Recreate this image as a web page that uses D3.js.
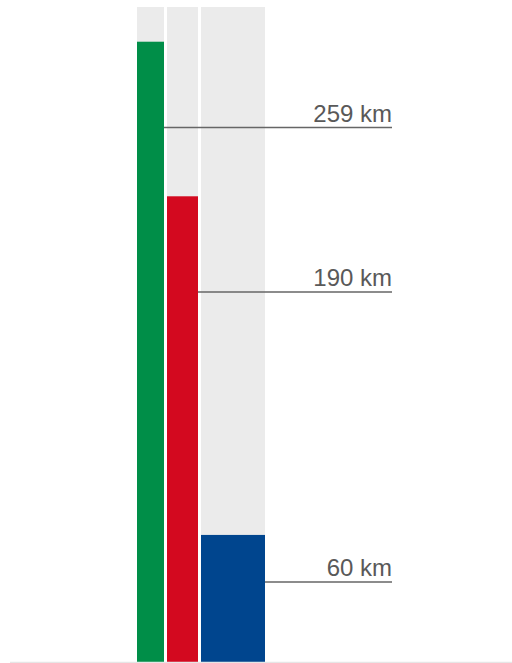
<!DOCTYPE html>
<html>
<head>
<meta charset="utf-8">
<script src="https://cdn.jsdelivr.net/npm/d3@7"></script>
<style>
	html, body { margin: 0; padding: 0; background: #fff; }
	svg { display: block; }
</style>
</head>
<body>
<div id="chart"></div>
<script>
// bar data (relative scale, 0..100 = full grey column)
const categories = ["green", "red", "blue"];
const barValues = [94.7, 71.1, 19.4];
const markerValues = [81.6, 56.5, 12.2];
const markerLabels = ["259 km", "190 km", "60 km"];
const columnWeights = [27, 31, 64];
const barColors = ["#008e48", "#d3091f", "#00458e"];

const width = 512;
const height = 663;
const gap = 3;

const svg = d3.select("#chart")
	.append("svg")
	.attr("width", width)
	.attr("height", height);

const y = d3.scaleLinear().domain([0, 100]).range([662, 7]);

// columns have different widths, lay them out from cumulative weights
const total = d3.sum(columnWeights);
const x = d3.scaleLinear()
	.domain([0, total])
	.range([137, 265 - gap * (categories.length - 1)]);
const cum = d3.cumsum(columnWeights);

const cols = categories.map((c, i) => {
	const start = i === 0 ? 0 : cum[i - 1];
	return {
		name: c,
		x0: x(start) + i * gap,
		x1: x(cum[i]) + i * gap,
		value: barValues[i],
		marker: markerValues[i],
		label: markerLabels[i],
		color: barColors[i],
	};
});

// grey backgrounds
svg.selectAll("rect.bg")
	.data(cols)
	.join("rect")
	.attr("class", "bg")
	.attr("x", (d) => d.x0)
	.attr("width", (d) => d.x1 - d.x0)
	.attr("y", y(100))
	.attr("height", y(0) - y(100))
	.attr("fill", "#ebebeb");

// bars
svg.selectAll("rect.bar")
	.data(cols)
	.join("rect")
	.attr("class", "bar")
	.attr("x", (d) => d.x0)
	.attr("width", (d) => d.x1 - d.x0)
	.attr("y", (d) => y(d.value))
	.attr("height", (d) => y(0) - y(d.value))
	.attr("fill", (d) => d.color);

// baseline
svg.append("line")
	.attr("x1", 10)
	.attr("x2", width)
	.attr("y1", y(0) + 0.5)
	.attr("y2", y(0) + 0.5)
	.attr("stroke", "#e6e6e6")
	.attr("stroke-width", 1.5);

// marker lines + labels
const labelX = 392;

svg.selectAll("line.marker")
	.data(cols)
	.join("line")
	.attr("class", "marker")
	.attr("x1", (d) => d.x1)
	.attr("x2", labelX)
	.attr("y1", (d) => y(d.marker))
	.attr("y2", (d) => y(d.marker))
	.attr("stroke", "#666")
	.attr("stroke-width", 1.5);

svg.selectAll("text.label")
	.data(cols)
	.join("text")
	.attr("class", "label")
	.attr("x", labelX)
	.attr("y", (d) => y(d.marker) - 6)
	.attr("text-anchor", "end")
	.attr("font-family", "Liberation Sans, Arial, sans-serif")
	.attr("font-size", 24)
	.attr("fill", "#595959")
	.text((d) => d.label);
</script>
</body>
</html>
